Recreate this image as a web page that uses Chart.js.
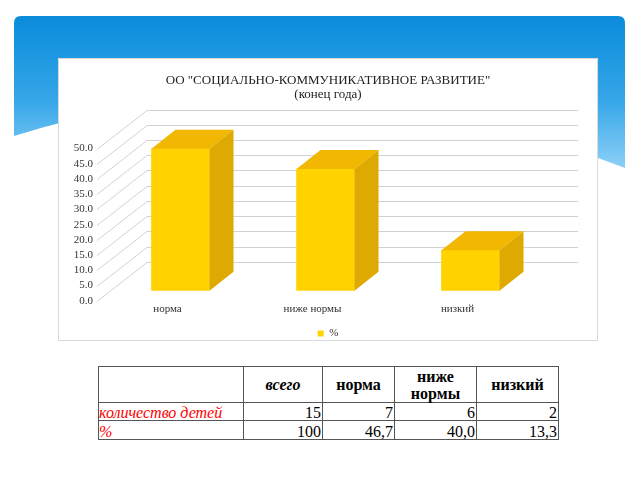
<!DOCTYPE html>
<html>
<head>
<meta charset="utf-8">
<script src="https://cdn.jsdelivr.net/npm/chart.js@4.4.0/dist/chart.umd.min.js"></script>
<style>
html,body{margin:0;padding:0;background:#fff;width:640px;height:480px;overflow:hidden;}
#bg{position:absolute;left:0;top:0;}
#panel{position:absolute;left:58px;top:58px;width:538px;height:281px;border:1px solid #d9d9d9;background:#fff;}
#wrap{position:absolute;left:59px;top:60px;width:538px;height:289px;}
#tbl{position:absolute;left:98px;top:366px;border-collapse:collapse;table-layout:fixed;width:460px;
  font-family:"Liberation Serif",serif;font-size:16px;color:#000;}
#tbl td{padding:0 1px;border:1px solid #555;overflow:visible;white-space:nowrap;}
#tbl tr.h td{height:35px;text-align:center;vertical-align:middle;font-weight:bold;line-height:17px;white-space:normal;}
#tbl tr.h td.it{font-style:italic;}
#tbl tr.d1 td{height:17px;}
#tbl tr.d2 td{height:18px;}
#tbl tr.d1 td, #tbl tr.d2 td{text-align:right;vertical-align:bottom;line-height:15px;}
#tbl td.lab{text-align:left !important;color:#ff0000;font-style:italic;padding-left:0;}
</style>
</head>
<body>
<svg id="bg" width="640" height="480">
  <defs>
    <linearGradient id="g" x1="0" y1="16" x2="0" y2="168" gradientUnits="userSpaceOnUse">
      <stop offset="0" stop-color="#0A8CDB"/>
      <stop offset="0.55" stop-color="#35A6E8"/>
      <stop offset="1" stop-color="#8CD0F6"/>
    </linearGradient>
  </defs>
  <path d="M14,23 Q14,16 21,16 L618,16 Q625,16 625,23 L625,168 Q304,43 14,136 Z" fill="url(#g)"/>
</svg>
<div id="panel"></div>
<div id="wrap"><canvas id="c" width="538" height="289"></canvas></div>
<table id="tbl">
  <colgroup><col style="width:145px"><col style="width:79px"><col style="width:72px"><col style="width:82px"><col style="width:82px"></colgroup>
  <tr class="h" id="hrow"></tr>
  <tr class="d1" id="r1"></tr>
  <tr class="d2" id="r2"></tr>
</table>
<script>
// ---- data ----
const categories = ['норма', 'ниже нормы', 'низкий'];
const percentValues = [46.7, 40.0, 13.3];
const childCounts = [7, 6, 2];
const totalCount = 15;
const totalPercent = 100;
const seriesLabel = '%';
const tableHeaders = ['всего', 'норма', 'ниже нормы', 'низкий'];
const rowLabels = ['количество детей', '%'];
const titleLines = ['ОО "СОЦИАЛЬНО-КОММУНИКАТИВНОЕ РАЗВИТИЕ"', '(конец года)'];
const yMin = 0, yMax = 50, yStep = 5;

// ---- table ----
const hrow = document.getElementById('hrow');
hrow.insertAdjacentHTML('beforeend', '<td></td>');
tableHeaders.forEach((h, i) => {
  const td = document.createElement('td');
  if (i === 0) td.className = 'it';
  td.textContent = h;
  hrow.appendChild(td);
});
function fillRow(id, label, total, vals, fmt) {
  const tr = document.getElementById(id);
  const l = document.createElement('td'); l.className = 'lab'; l.textContent = label; tr.appendChild(l);
  const t = document.createElement('td'); t.textContent = String(total); tr.appendChild(t);
  vals.forEach(v => { const td = document.createElement('td'); td.textContent = fmt(v); tr.appendChild(td); });
}
fillRow('r1', rowLabels[0], totalCount, childCounts, v => String(v));
fillRow('r2', rowLabels[1], totalPercent, percentValues, v => v.toFixed(1).replace('.', ','));

// ---- chart ----
const DEPTH_X = 24, DEPTH_Y = -19;
const WALL_X = 50, WALL_Y = -39, LABEL_SHIFT = 10;
const FRONT = '#FFD200', TOPC = '#F2B700', SIDE = '#DEA900';

const box3d = {
  id: 'box3d',
  beforeDatasetsDraw(chart) {
    const ctx = chart.ctx, ys = chart.scales.y, area = chart.chartArea;
    ctx.save();
    ctx.strokeStyle = '#d2d2d2';
    ctx.lineWidth = 1;
    const fx = area.left - 11, bx = fx + WALL_X, ex = area.right + 35;
    ys.ticks.forEach(t => {
      const py = Math.round(ys.getPixelForValue(t.value) + LABEL_SHIFT) + 0.5;
      ctx.beginPath();
      ctx.moveTo(fx, py);
      ctx.lineTo(bx, py + WALL_Y);
      ctx.lineTo(ex, py + WALL_Y);
      ctx.stroke();
    });
    ctx.restore();
  },
  afterDatasetsDraw(chart) {
    const ctx = chart.ctx;
    const meta = chart.getDatasetMeta(0);
    ctx.save();
    meta.data.forEach(bar => {
      const p = bar.getProps(['x', 'y', 'base', 'width'], true);
      const L = p.x - p.width / 2, R = p.x + p.width / 2, T = p.y, B = p.base;
      ctx.fillStyle = TOPC;
      ctx.beginPath();
      ctx.moveTo(L, T); ctx.lineTo(L + DEPTH_X, T + DEPTH_Y);
      ctx.lineTo(R + DEPTH_X, T + DEPTH_Y); ctx.lineTo(R, T); ctx.closePath(); ctx.fill();
      ctx.fillStyle = SIDE;
      ctx.beginPath();
      ctx.moveTo(R, T); ctx.lineTo(R + DEPTH_X, T + DEPTH_Y);
      ctx.lineTo(R + DEPTH_X, B + DEPTH_Y); ctx.lineTo(R, B); ctx.closePath(); ctx.fill();
    });
    ctx.restore();
  }
};

const tickFont = { family: 'Liberation Serif', size: 11 };
new Chart(document.getElementById('c'), {
  type: 'bar',
  data: {
    labels: categories,
    datasets: [{ label: seriesLabel, data: percentValues, backgroundColor: FRONT, borderWidth: 0, barThickness: 58, yAxisID: 'y' }]
  },
  options: {
    responsive: false,
    animation: false,
    layout: { padding: { left: 0, right: 0, top: 0, bottom: 0 } },
    plugins: {
      title: { display: true, text: titleLines, color: '#222',
        font: { family: 'Liberation Serif', size: 13, weight: 'normal', lineHeight: 1.1 },
        padding: { top: 13, bottom: 37 } },
      legend: { position: 'bottom',
        labels: { boxWidth: 6, boxHeight: 6, padding: 0, color: '#333', font: tickFont } },
      tooltip: { enabled: false }
    },
    scales: {
      x: { grid: { display: false, drawTicks: false }, border: { display: false },
        ticks: { font: tickFont, color: '#333', padding: 12, labelOffset: -13, maxRotation: 0 } },
      y: { min: yMin, max: yMax, grid: { display: false, drawTicks: false }, border: { display: false },
        ticks: { stepSize: yStep, autoSkip: false, callback: v => Number(v).toFixed(1), font: tickFont, color: '#333', padding: 15, labelOffset: LABEL_SHIFT },
        afterFit: s => { s.width = 49; } },
      yRight: { position: 'right', display: true, min: yMin, max: yMax,
        grid: { display: false, drawTicks: false }, border: { display: false },
        ticks: { display: false },
        afterFit: s => { s.width = 54; } }
    }
  },
  plugins: [box3d]
});
</script>
</body>
</html>
